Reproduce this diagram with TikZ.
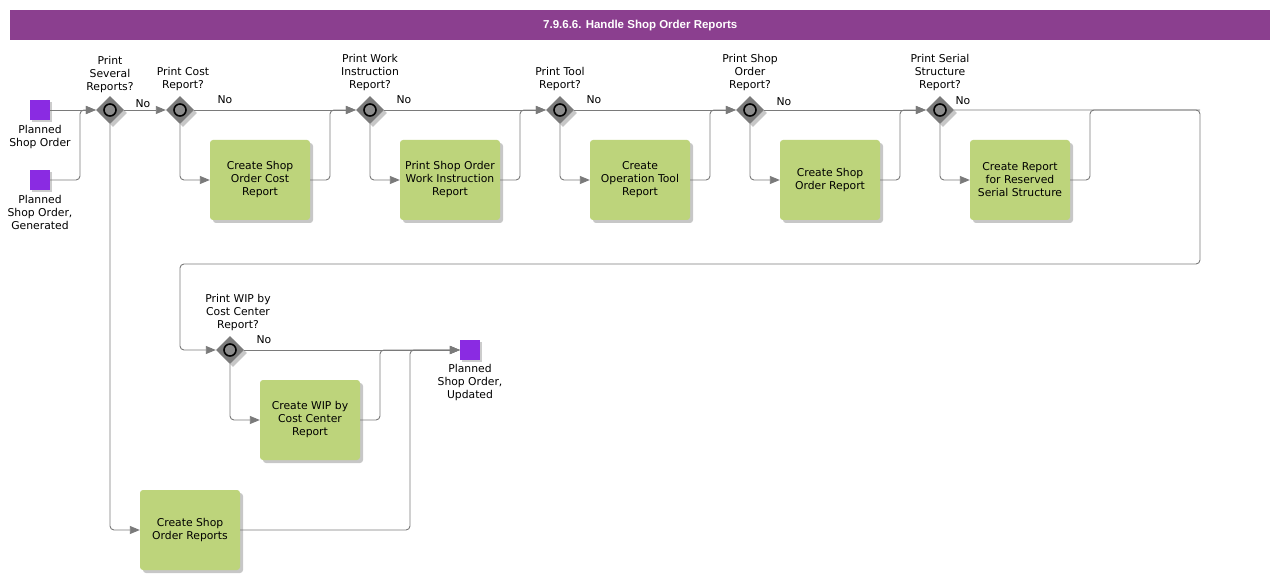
\documentclass[tikz,border=0pt]{standalone}
\usepackage{fontspec}
\setmainfont{DejaVu Sans}
\newfontfamily\titlefont{Liberation Sans}
\usetikzlibrary{shapes.geometric,arrows.meta,shadows}
\definecolor{titlepurple}{HTML}{8B3F8F}
\definecolor{taskgreen}{HTML}{BDD47B}
\definecolor{evpurple}{HTML}{8A2BE2}
\definecolor{linegray}{HTML}{7A7A7A}
\definecolor{gwgray}{HTML}{7B7B7B}
\definecolor{gwinner}{HTML}{8C8C8C}
\tikzset{
  lbl/.style={font=\fontsize{10.8}{13}\selectfont, align=center, inner sep=0pt, text=black},
  taskbox/.style={rectangle, rounded corners=3pt, fill=taskgreen, minimum width=100pt, minimum height=80pt,
    inner sep=1pt, align=center, font=\fontsize{10.8}{13}\selectfont,
    drop shadow={shadow xshift=3pt, shadow yshift=-3pt, fill=black, opacity=0.22}},
  gate/.style={diamond, aspect=1, fill=gwgray, minimum width=28pt, minimum height=28pt, inner sep=0pt,
    drop shadow={shadow xshift=3pt, shadow yshift=-3pt, fill=black, opacity=0.22}},
  evbox/.style={rectangle, fill=evpurple, minimum width=20pt, minimum height=20pt, inner sep=0pt,
    drop shadow={shadow xshift=2pt, shadow yshift=-2pt, fill=black, opacity=0.2}},
  flow/.style={draw=linegray, line width=0.9pt, rounded corners=4pt, -{Triangle[length=10pt,width=8pt,fill=linegray]}},
  plain/.style={draw=linegray, line width=0.9pt, rounded corners=4pt},
  ring/.style={draw=black, line width=1.6pt, fill=gwinner}
}
\begin{document}
\begin{tikzpicture}[x=1pt,y=-1pt]
\useasboundingbox[fill=white] (0,0) rectangle (1280,580);
% title
\node[fill=titlepurple, minimum width=1260pt, minimum height=30pt, inner sep=0pt, anchor=north west,
  text=white, font=\titlefont\bfseries\fontsize{11.5}{13}\selectfont] (title) at (10,10) {7.9.6.6. Handle Shop Order Reports};

% events
\node[evbox] (s1) at (40,110) {};
\node[lbl, anchor=north] (s1l) at (40,125) {Planned\\Shop Order};
\node[evbox] (s2) at (40,180) {};
\node[lbl, anchor=north] (s2l) at (40,195) {Planned\\Shop Order,\\Generated};
\node[evbox] (e) at (470,350) {};
\node[lbl, anchor=north] (el) at (470,364) {Planned\\Shop Order,\\Updated};

% gateways
\foreach \n/\x/\y in {g1/110/110, g2/180/110, g3/370/110, g4/560/110, g5/750/110, g6/940/110, g7/230/350}{
  \node[gate] (\n) at (\x,\y) {};
  \draw[ring] (\n) circle (6pt);
}
\node[lbl, anchor=south] (g1l) at (110,93) {Print\\Several\\Reports?};
\node[lbl, anchor=south] (g2l) at (183,91) {Print Cost\\Report?};
\node[lbl, anchor=south] (g3l) at (370,91) {Print Work\\Instruction\\Report?};
\node[lbl, anchor=south] (g4l) at (560,91) {Print Tool\\Report?};
\node[lbl, anchor=south] (g5l) at (750,91) {Print Shop\\Order\\Report?};
\node[lbl, anchor=south] (g6l) at (940,91) {Print Serial\\Structure\\Report?};
\node[lbl, anchor=south] (g7l) at (238,331) {Print WIP by\\Cost Center\\Report?};

% tasks
\node[taskbox] (t1) at (260,180) {Create Shop\\Order Cost\\Report};
\node[taskbox] (t2) at (450,180) {Print Shop Order\\Work Instruction\\Report};
\node[taskbox] (t3) at (640,180) {Create\\Operation Tool\\Report};
\node[taskbox] (t4) at (830,180) {Create Shop\\Order Report};
\node[taskbox] (t5) at (1020,180) {Create Report\\for Reserved\\Serial Structure};
\node[taskbox] (t6) at (310,420) {Create WIP by\\Cost Center\\Report};
\node[taskbox] (t7) at (190,530) {Create Shop\\Order Reports};

% connectors
\draw[flow] (s1) -- (g1);
\draw[flow] (s2) -- (80,180) |- (g1.west);
\draw[flow] (g1) -- (g2);
\node[lbl] (g1no) at (143,104) {No};
\draw[flow] (g1.south) |- (t7.west);
\draw[flow] (g2) -- (g3);
\node[lbl] (g2no) at (225,100) {No};
\draw[flow] (g2.south) |- (t1.west);
\draw[flow] (t1.east) -- (330,180) |- (g3.west);
\draw[flow] (g3) -- (g4);
\node[lbl] (g3no) at (404,100) {No};
\draw[flow] (g3.south) |- (t2.west);
\draw[flow] (t2.east) -- (520,180) |- (g4.west);
\draw[flow] (g4) -- (g5);
\node[lbl] (g4no) at (594,100) {No};
\draw[flow] (g4.south) |- (t3.west);
\draw[flow] (t3.east) -- (710,180) |- (g5.west);
\draw[flow] (g5) -- (g6);
\node[lbl] (g5no) at (784,102) {No};
\draw[flow] (g5.south) |- (t4.west);
\draw[flow] (t4.east) -- (900,180) |- (g6.west);
\draw[flow] (g6.south) |- (t5.west);
\draw[flow] (g6.east) -- (1200,110) -- (1200,264) -- (180,264) |- (g7.west);
\node[lbl] (g6no) at (963,101) {No};
\draw[plain] (t5.east) -- (1090,180) |- (1200,110);
\draw[flow] (g7) -- (e);
\node[lbl] (g7no) at (264,340) {No};
\draw[flow] (g7.south) |- (t6.west);
\draw[flow] (t6.east) -- (380,420) |- (e.west);
\draw[flow] (t7.east) -- (410,530) |- (e.west);
\end{tikzpicture}
\end{document}
